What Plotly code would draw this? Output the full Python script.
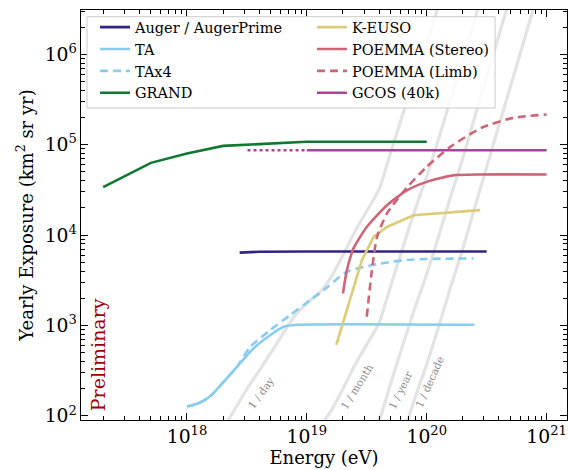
import plotly.graph_objects as go

FONT = "DejaVu Serif"

# ---------------- data (energy in eV, yearly exposure in km^2 sr yr) ----------------
auger_E = [2.75e18, 4e18, 1e19, 1e20, 3.16e20]
auger_Y = [6400, 6550, 6600, 6600, 6600]

ta_E = [1e18, 1.25e18, 1.57e18, 2.03e18, 2.62e18, 3.6e18, 4.96e18, 6.4e18, 8.3e18, 2.5e20]
ta_Y = [127, 138, 166, 240, 351, 560, 785, 970, 1020, 1020]

tax4_E = [1e18, 1.25e18, 1.57e18, 2.03e18, 2.62e18, 3.38e18, 4.96e18, 7.29e18, 1.07e19,
          1.48e19, 2.16e19, 4.1e19, 7.76e19, 2.45e20]
tax4_Y = [127, 138, 166, 240, 352, 583, 891, 1310, 1910, 2660, 3930, 4860, 5380, 5520]

grand_E = [2e17, 5e17, 1e18, 2e18, 1e19, 1e20]
grand_Y = [3.4e4, 6.3e4, 8e4, 9.7e4, 1.08e5, 1.08e5]

keuso_E = [1.76e19, 2.03e19, 2.45e19, 2.88e19, 3.61e19, 4.66e19, 7.76e19, 1.22e20, 1.47e20, 2.79e20]
keuso_Y = [610, 1150, 2700, 5300, 9600, 12300, 16600, 17400, 18000, 18900]

poemma_s_E = [2.0e19, 2.16e19, 2.45e19, 3.16e19, 4.66e19, 6.84e19, 1e20, 1.66e20, 2.79e20, 1e21]
poemma_s_Y = [2270, 4100, 7130, 12300, 21400, 31300, 38800, 45800, 46900, 46900]

poemma_l_E = [3.16e19, 3.49e19, 3.85e19, 4.66e19, 6.84e19, 1e20, 1.57e20, 2.9e20, 5.25e20, 1e21]
poemma_l_Y = [1250, 4100, 9550, 17400, 33700, 56900, 94600, 155000, 198000, 216000]

gcos_dot_E = [3.2e18, 1e19]
gcos_dot_Y = [8.7e4, 8.7e4]
gcos_E = [1e19, 1e21]
gcos_Y = [8.7e4, 8.7e4]

# event-rate guide lines
day_E = [2.0e18, 2.51e18, 3.16e18, 3.98e18, 5.01e18, 6.31e18, 7.94e18, 1e19, 1.26e19, 1.58e19,
         2.0e19, 2.51e19, 3.16e19, 3.98e19, 5.01e19, 6.31e19, 7.94e19, 1e20, 1.26e20]
day_Y = [72, 119, 198, 314, 498, 807, 1280, 1770, 2280, 3370, 5980, 10900, 18500, 31400,
         82600, 217000, 558000, 1.34e6, 3.52e6]

month_E = [7.94e18, 1e19, 1.26e19, 1.58e19, 2.0e19, 2.51e19, 3.16e19, 3.98e19, 5.01e19, 6.31e19,
           7.94e19, 1e20, 1.26e20, 1.58e20, 2.0e20, 2.51e20, 3.16e20]
month_Y = [42.7, 58.9, 75.9, 112, 200, 363, 617, 1050, 2750, 7240, 18600, 44700, 117000,
           316000, 851000, 2.40e6, 6.76e6]

year_E = [3.16e19, 3.98e19, 5.01e19, 6.31e19, 7.94e19, 1e20, 1.26e20, 1.58e20, 2.0e20, 2.51e20,
          3.16e20, 3.98e20, 5.01e20]
year_Y = [51.4, 87.3, 230, 604, 1550, 3720, 9790, 26400, 71000, 200000, 564000, 1.59e6, 4.48e6]

decade_E = [6.31e19, 7.94e19, 1e20, 1.26e20, 1.58e20, 2.0e20, 2.51e20, 3.16e20, 3.98e20, 5.01e20,
            6.31e20, 7.94e20]
decade_Y = [60.4, 155, 372, 979, 2640, 7100, 20000, 56400, 159000, 448000, 1.26e6, 3.56e6]

rate_labels = ["1 / day", "1 / month", "1 / year", "1 / decade"]

# ---------------- figure ----------------
fig = go.Figure()

for E, Y in [(day_E, day_Y), (month_E, month_Y), (year_E, year_Y), (decade_E, decade_Y)]:
    fig.add_trace(go.Scatter(x=E, y=Y, mode="lines", showlegend=False, hoverinfo="skip",
                             line=dict(color="#e3e3e3", width=3.2, shape="spline", smoothing=0.6)))

LW = 2.6
series = [
    ("Auger / AugerPrime", auger_E, auger_Y, "#332288", "solid", "legend", "linear"),
    ("TA", ta_E, ta_Y, "#88CCEE", "solid", "legend", "spline"),
    ("TAx4", tax4_E, tax4_Y, "#88CCEE", "8px,5px", "legend", "spline"),
    ("GRAND", grand_E, grand_Y, "#117733", "solid", "legend", "linear"),
    ("K-EUSO", keuso_E, keuso_Y, "#DDCC77", "solid", "legend2", "linear"),
    ("POEMMA (Stereo)", poemma_s_E, poemma_s_Y, "#CC6677", "solid", "legend2", "spline"),
    ("POEMMA (Limb)", poemma_l_E, poemma_l_Y, "#CC6677", "8px,5px", "legend2", "spline"),
]
for name, E, Y, col, dash, leg, shp in series:
    ln = dict(color=col, width=LW, dash=dash, shape=shp)
    if shp == "spline":
        ln["smoothing"] = 0.6
    fig.add_trace(go.Scatter(x=E, y=Y, mode="lines", name=name, legend=leg, line=ln))

fig.add_trace(go.Scatter(x=gcos_dot_E, y=gcos_dot_Y, mode="lines", showlegend=False,
                         line=dict(color="#AA4499", width=LW, dash="dot")))
fig.add_trace(go.Scatter(x=gcos_E, y=gcos_Y, mode="lines", name="GCOS (40k)", legend="legend2",
                         line=dict(color="#AA4499", width=LW)))

# rate labels along the guide lines
label_pos = [(18.615, 2.254, -54), (19.418, 2.331, -58), (19.779, 2.287, -64), (20.021, 2.376, -66)]
for txt, (lx, ly, ang) in zip(rate_labels, label_pos):
    fig.add_annotation(x=lx, y=ly, xref="x", yref="y", text=txt, showarrow=False,
                       textangle=ang, xanchor="center", yanchor="middle",
                       font=dict(family=FONT, size=10.5, color="#8a8a8a"))

fig.add_annotation(x=0.035, y=0.158, xref="paper", yref="paper", text="Preliminary",
                   showarrow=False, textangle=-90, xanchor="center", yanchor="middle",
                   font=dict(family=FONT, size=19, color="#a00000"))

# legend frame (two legend columns share one box)
fig.add_shape(type="rect", xref="paper", yref="paper", x0=0.0123, x1=0.852, y0=0.761, y1=0.9837,
              fillcolor="rgba(255,255,255,0.8)", line=dict(color="#cccccc", width=1), layer="above")

axis_common = dict(
    type="log", showgrid=False, zeroline=False,
    showline=True, linecolor="black", linewidth=1.2, mirror="allticks",
    ticks="inside", ticklen=7, tickwidth=1.1, tickcolor="black",
    dtick=1, exponentformat="power",
    tickfont=dict(family=FONT, size=15, color="black"),
    minor=dict(ticks="inside", ticklen=3.5, tickwidth=0.8, tickcolor="black", dtick="D1"),
)

fig.update_xaxes(range=[17.116, 21.17],
                 title=dict(text="Energy (eV)", font=dict(family=FONT, size=18, color="black"),
                            standoff=4),
                 **axis_common)
fig.update_yaxes(range=[1.955, 6.49],
                 title=dict(text="Yearly Exposure (km<sup>2</sup> sr yr)",
                            font=dict(family=FONT, size=18, color="black"), standoff=6),
                 **axis_common)

leg_common = dict(
    orientation="v", yanchor="top", xanchor="left",
    bgcolor="rgba(0,0,0,0)", borderwidth=0,
    font=dict(family=FONT, size=14.5, color="black"),
    traceorder="normal",
)

fig.update_layout(
    width=569, height=470,
    margin=dict(l=81, r=2, t=10, b=50, autoexpand=False),
    plot_bgcolor="white", paper_bgcolor="white",
    font=dict(family=FONT, color="black"),
    legend=dict(x=0.0288, y=0.997, **leg_common),
    legend2=dict(x=0.4752, y=0.997, **leg_common),
)

# remove the page's default body margin so the 569x470 figure fills the window exactly
fig.write_html("out.html",
               config={"displayModeBar": False},
               post_script="document.body.style.margin='0px';document.body.style.overflow='hidden';")
